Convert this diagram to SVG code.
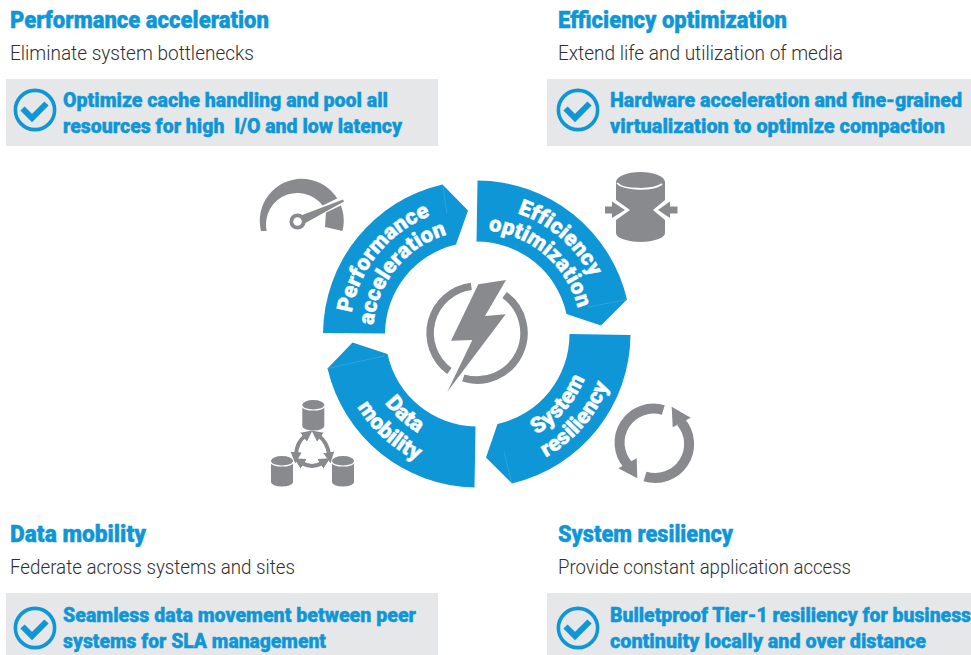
<svg xmlns="http://www.w3.org/2000/svg" width="971" height="655" viewBox="0 0 971 655">
<style>
text{font-family:"Roboto","Liberation Sans",sans-serif;white-space:pre}
.h{font-size:23px;font-weight:900;fill:#0f96d6;stroke:#0f96d6;stroke-width:.4px}
.s{font-size:20px;font-weight:300;fill:#2f2f31}
.b{font-size:21px;font-weight:900;fill:#0f96d6;stroke:#0f96d6;stroke-width:.4px}
.box{fill:#e6e7e8}
.seg{fill:#0f96d6}
.fold{stroke:#45ade0;stroke-width:.6;fill:none}
.w{font-size:22px;font-weight:900;fill:#fff;stroke:#fff;stroke-width:.4px;text-anchor:middle;letter-spacing:.1px}
.ic{fill:#898a8d}
.chk{fill:none;stroke:#0f96d6}
.ln{fill:none;stroke:#898a8d}
</style>
<defs>
<g id="check"><circle cx="0" cy="0" r="19.6" class="chk" stroke-width="3.6"/><path d="M-12.5,-1.5 L-3,8 L11.5,-6.5" class="chk" stroke-width="6"/></g>
<path id="t127" d="M351.9,312 A127,127 0 0 1 602.1,312"/>
<path id="t104" d="M374.6,315.9 A104,104 0 0 1 579.4,315.9"/>
<path id="b117" d="M361.8,354.3 A117,117 0 0 0 592.2,354.3"/>
<path id="b141" d="M338.1,358.5 A141,141 0 0 0 615.9,358.5"/>
<path id="b115" d="M363.7,354 A115,115 0 0 0 590.3,354"/>
<path id="b140" d="M339.1,358.3 A140,140 0 0 0 614.9,358.3"/>
<marker id="ah" viewBox="0 0 6 6" refX="1" refY="3" markerWidth="2.8" markerHeight="2.8" orient="auto-start-reverse"><path d="M0,0 L6,3 L0,6 Z" fill="#898a8d"/></marker>
<g id="cyl"><path class="ic" d="M0,5 A11,5 0 0 1 22,5 V26 A11,4.5 0 0 1 0,26 Z"/><path d="M0,6 A11,4 0 0 0 22,6" fill="none" stroke="#fff" stroke-width="1.2"/></g>
</defs>

<g id="panel-performance">
<text class="h" x="10" y="28" textLength="259" lengthAdjust="spacingAndGlyphs">Performance acceleration</text>
<text class="s" x="10" y="60" textLength="244" lengthAdjust="spacingAndGlyphs">Eliminate system bottlenecks</text>
<rect class="box" x="6" y="79" width="432" height="67"/>
<use href="#check" x="35" y="110"/>
<text class="b" x="63" y="107" textLength="325" lengthAdjust="spacingAndGlyphs">Optimize cache handling and pool all</text>
<text class="b" x="63" y="133" textLength="339" lengthAdjust="spacingAndGlyphs">resources for high  I/O and low latency</text>
</g>
<g id="panel-efficiency">
<text class="h" x="558" y="28" textLength="229" lengthAdjust="spacingAndGlyphs">Efficiency optimization</text>
<text class="s" x="558" y="60" textLength="285" lengthAdjust="spacingAndGlyphs">Extend life and utilization of media</text>
<rect class="box" x="547" y="79" width="424" height="67"/>
<use href="#check" x="578" y="110"/>
<text class="b" x="610" y="107" textLength="352" lengthAdjust="spacingAndGlyphs">Hardware acceleration and fine-grained</text>
<text class="b" x="610" y="133" textLength="335" lengthAdjust="spacingAndGlyphs">virtualization to optimize compaction</text>
</g>
<g id="panel-mobility">
<text class="h" x="10" y="542" textLength="136" lengthAdjust="spacingAndGlyphs">Data mobility</text>
<text class="s" x="10" y="574" textLength="285" lengthAdjust="spacingAndGlyphs">Federate across systems and sites</text>
<rect class="box" x="6" y="593" width="432" height="62"/>
<use href="#check" x="35" y="628"/>
<text class="b" x="63" y="622" textLength="353" lengthAdjust="spacingAndGlyphs">Seamless data movement between peer</text>
<text class="b" x="63" y="648" textLength="263" lengthAdjust="spacingAndGlyphs">systems for SLA management</text>
</g>
<g id="panel-resiliency">
<text class="h" x="558" y="542" textLength="175" lengthAdjust="spacingAndGlyphs">System resiliency</text>
<text class="s" x="558" y="574" textLength="293" lengthAdjust="spacingAndGlyphs">Provide constant application access</text>
<rect class="box" x="547" y="593" width="424" height="62"/>
<use href="#check" x="578" y="628"/>
<text class="b" x="610" y="622" textLength="361" lengthAdjust="spacingAndGlyphs">Bulletproof Tier-1 resiliency for business</text>
<text class="b" x="610" y="648" textLength="316" lengthAdjust="spacingAndGlyphs">continuity locally and over distance</text>
</g>

<g id="segment-performance">
<path class="seg" d="M323,333 A154,154 0 0 1 442.5,184.5 L468,210.5 L456,244.5 A92,92 0 0 0 385,333.5 Z"/>
<path class="fold" d="M442.5,184.5 L447,213"/>
<g transform="rotate(-51 477 334)"><text class="w"><textPath href="#t127" startOffset="50%">Performance</textPath></text><text class="w"><textPath href="#t104" startOffset="50%">acceleration</textPath></text></g>
</g>
<g id="segment-efficiency">
<path class="seg" d="M477.5,180.5 A154,154 0 0 1 627,299.5 L601,325.5 L566.5,314 A92,92 0 0 0 476.5,241.5 Z"/>
<path class="fold" d="M627,299.5 L588,307"/>
<g transform="rotate(41 477 334)"><text class="w"><textPath href="#t127" startOffset="50%">Efficiency</textPath></text><text class="w"><textPath href="#t104" startOffset="50%">optimization</textPath></text></g>
</g>
<g id="segment-resiliency">
<path class="seg" d="M630.5,335 A154,154 0 0 1 512,483.5 L486,457.5 L497.5,424 A92,92 0 0 0 569.5,334 Z"/>
<path class="fold" d="M512,483.5 L504,452"/>
<g transform="rotate(-49 477 334)"><text class="w"><textPath href="#b117" startOffset="50%">System</textPath></text><text class="w"><textPath href="#b141" startOffset="50%">resiliency</textPath></text></g>
</g>
<g id="segment-mobility">
<path class="seg" d="M474.5,487.5 A154,154 0 0 1 327.5,368.5 L352.5,342.5 L387.5,354 A92,92 0 0 0 475.5,426.5 Z"/>
<path class="fold" d="M327.5,368.5 L384,356"/>
<g transform="rotate(42 477 334)"><text class="w"><textPath href="#b115" startOffset="50%">Data</textPath></text><text class="w"><textPath href="#b140" startOffset="50%">mobility</textPath></text></g>
</g>

<g id="center-power">
<path class="ln" stroke-width="7.5" d="M471.3,286.4 A47,47 0 0 0 449.4,371"/>
<path class="ln" stroke-width="7.5" d="M504.6,295 A47,47 0 0 1 463.3,378"/>
<path class="ic" d="M478.3,284.3 L506,280 L485,316 L505.7,314.3 L447.3,391.7 L472.3,340 L451,340.7 Z"/>
</g>

<g id="icon-gauge">
<path class="ic" d="M261,231 A42,42 0 1 1 342.5,231 L325,227 L326,211 A31.5,31.5 0 0 0 266.7,231 Z"/>
<path d="M300,221 L345,199" stroke="#fff" stroke-width="8" fill="none"/>
<path class="ic" d="M297,217 L343,199.5 L344,201.5 L300,226 Z"/>
<circle cx="297.5" cy="221.5" r="6.2" fill="#fff" stroke="#898a8d" stroke-width="3.8"/>
</g>

<g id="icon-compaction">
<path class="ic" d="M616,182 A24.5,10 0 0 1 665,182 V200 L653,210 L665,220 V233 A24.5,9 0 0 1 616,233 V220 L630,210 L616,200 Z"/>
<path d="M617,183 A24,8 0 0 0 662,184" fill="none" stroke="#fff" stroke-width="1.8"/>
<path class="ic" d="M605,206.5 H612 V201.5 L625,210 L612,218 V213.5 H605 Z"/>
<path class="ic" d="M677.5,206.5 H670 V201.5 L658,210 L670,218 V213.5 H677.5 Z"/>
</g>

<g id="icon-mobility">
<use href="#cyl" x="302.3" y="400"/>
<use href="#cyl" x="271" y="456"/>
<use href="#cyl" x="332" y="456"/>
<path class="ln" stroke-width="4" marker-start="url(#ah)" marker-end="url(#ah)" d="M305,436 Q297,442 296,454"/>
<path class="ln" stroke-width="4" marker-start="url(#ah)" marker-end="url(#ah)" d="M319,436 Q327,442 329,454"/>
<path class="ln" stroke-width="4" marker-start="url(#ah)" marker-end="url(#ah)" d="M302,463 Q312,469 322,463"/>
</g>

<g id="icon-sync">
<path class="ln" stroke-width="10" d="M663.3,410 A34,34 0 0 0 628,465"/>
<path class="ic" d="M618.3,468.3 L637.3,478.3 L636.7,458.3 Z"/>
<path class="ln" stroke-width="10" d="M645,476.5 A34,34 0 0 0 681,422"/>
<path class="ic" d="M671.7,406.7 L690.7,417.7 L672.7,427.3 Z"/>
</g>
</svg>
